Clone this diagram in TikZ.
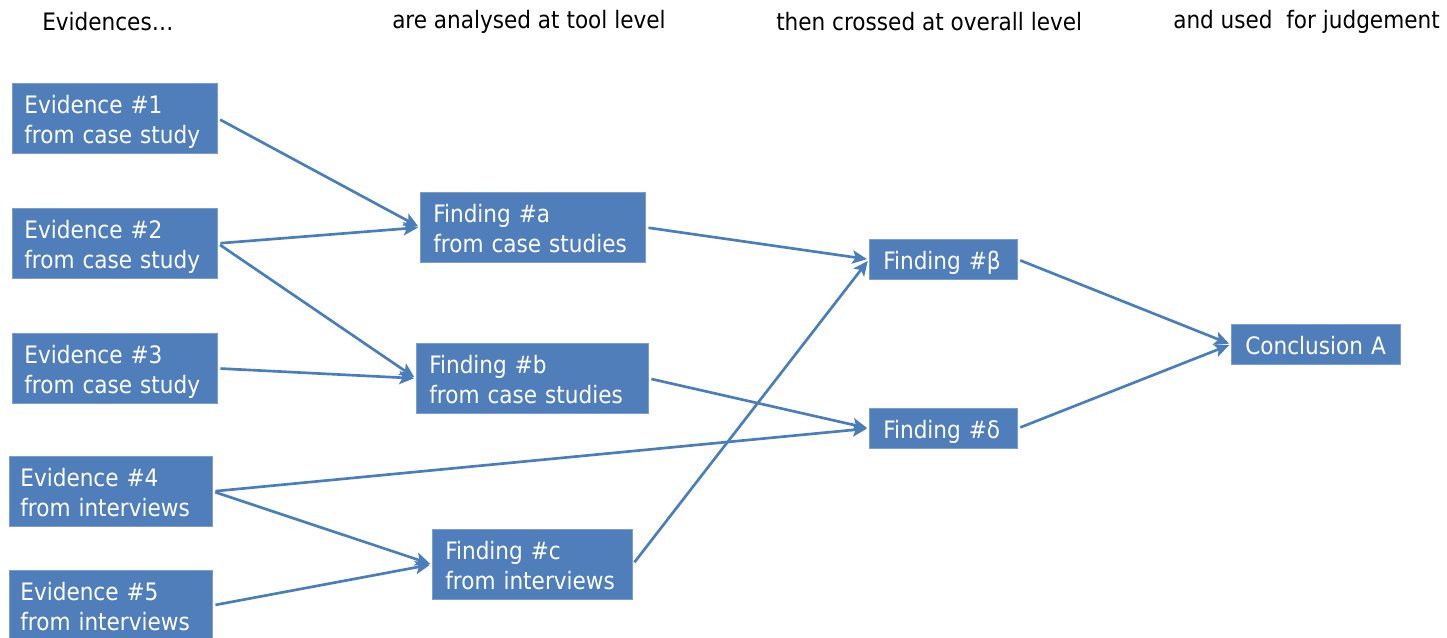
\documentclass[tikz,border=0pt]{standalone}
\usepackage{fontspec}
\setmainfont{DejaVu Sans Condensed}
\usetikzlibrary{arrows.meta}
\definecolor{boxblue}{RGB}{79,126,186}
\definecolor{lineblue}{RGB}{74,126,187}
\newcommand\bxt[1]{\raisebox{-3pt}[\height][\depth]{\begin{tabular}{@{}l@{}}#1\end{tabular}}}
\begin{document}
\begin{tikzpicture}[x=0.75pt,y=-0.75pt,
  box/.style={rectangle, fill=boxblue, draw=boxblue!75!white, line width=0.6pt,
    text=white, font=\fontsize{18}{22.5}\selectfont, align=left,
    inner ysep=0pt, minimum height=52.5pt, anchor=north west},
  smallbox/.style={box, minimum height=30pt},
  head/.style={anchor=west, font=\fontsize{18}{22}\selectfont, inner sep=0pt},
  arr/.style={draw=lineblue, line width=2pt,
    -{Stealth[length=11pt,width=10pt,inset=2.5pt]}, shorten <=2pt, shorten >=1.5pt}]
\clip (0,0) rectangle (1447,638);
\fill[white] (0,0) rectangle (1447,638);

% headers
\node[head] (h1) at (42,22) {Evidences\ldots};
\node[head] (h2) at (392,22) {are analysed at tool level};
\node[head] (h3) at (776,22) {then crossed at overall level};
\node[head] (h4) at (1173,22) {and used\ \ for judgement};

% evidences
\node[box, inner xsep=9pt, text width=135.75pt] (e1) at (12,83) {\bxt{Evidence \#1\\from case study}};
\node[box, inner xsep=9pt, text width=135.75pt] (e2) at (12,208) {\bxt{Evidence \#2\\from case study}};
\node[box, inner xsep=9pt, text width=135.75pt] (e3) at (12,333) {\bxt{Evidence \#3\\from case study}};
\node[box, inner xsep=8.25pt, text width=135.75pt] (e4) at (9,456) {\bxt{Evidence \#4\\from interviews}};
\node[box, inner xsep=8.25pt, text width=135.75pt] (e5) at (9,570) {\bxt{Evidence \#5\\from interviews}};

% tool-level findings
\node[box, inner xsep=9.75pt, text width=149.25pt] (fa) at (420,192) {\bxt{Finding \#a\\from case studies}};
\node[box, inner xsep=9.75pt, text width=154.5pt] (fb) at (416,343) {\bxt{Finding \#b\\from case studies}};
\node[box, inner xsep=9.75pt, text width=130.5pt] (fc) at (432,529) {\bxt{Finding \#c\\from interviews}};

% overall findings
\node[smallbox, inner xsep=10.5pt, text width=90pt] (fbeta) at (869,239) {\bxt{Finding \#β}};
\node[smallbox, inner xsep=10.5pt, text width=90pt] (fdelta) at (869,408) {\bxt{Finding \#δ}};

% conclusion
\node[smallbox, inner xsep=10.5pt, text width=105.75pt] (ca) at (1231,324) {\bxt{Conclusion A}};

% connectors
\draw[arr] (e1.east) -- (fa.west);
\draw[arr] (e2.east) -- (fa.west);
\draw[arr] (e2.east) -- (fb.west);
\draw[arr] (e3.east) -- (fb.west);
\draw[arr] (e4.east) -- (fdelta.west);
\draw[arr] (e4.east) -- (fc.west);
\draw[arr] (e5.east) -- (fc.west);
\draw[arr] (fa.east) -- (fbeta.west);
\draw[arr] (fc.east) -- (fbeta.west);
\draw[arr] (fb.east) -- (fdelta.west);
\draw[arr] (fbeta.east) -- (ca.west);
\draw[arr] (fdelta.east) -- (ca.west);
\end{tikzpicture}
\end{document}
